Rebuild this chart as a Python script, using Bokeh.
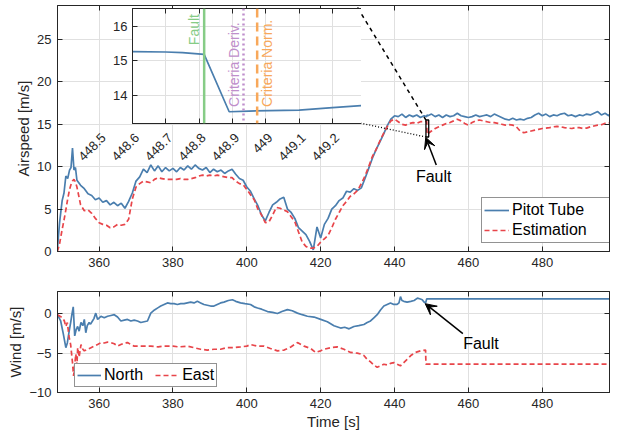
from math import pi
from bokeh.plotting import figure
from bokeh.models import (Range1d, LinearAxis, FixedTicker, Legend, LegendItem,
                          Arrow, VeeHead, Label, LabelSet, ColumnDataSource, GridBox, Span)
from bokeh.core.properties import value
from bokeh.embed import file_html
from bokeh.resources import INLINE

# ---------------- data ----------------
t_air = [348.7, 349.3, 350.0, 350.5, 351.0, 351.5, 352.0, 352.4, 352.8, 353.2, 353.6, 354,
         355, 356, 357, 358, 359, 360, 361, 362, 363, 364,
         365, 366, 367, 368, 369, 370, 371, 372, 373, 374,
         375, 376, 377, 378, 379, 380, 381, 382, 383, 384,
         385, 386, 387, 388, 389, 390, 391, 392, 393, 394,
         395, 396, 397, 398, 399, 400, 401, 402, 403, 404,
         405, 406, 407, 408, 409, 410, 411, 412, 413, 414,
         415, 416, 417, 418, 419, 420, 421, 422, 423, 424,
         425, 426, 427, 428, 429, 430, 431, 432, 433, 434,
         435, 436, 437, 438, 439, 440, 441, 442, 443, 444,
         445, 446, 447, 448, 448.7, 448.8,
         449, 450, 451, 452, 453, 454, 455, 456, 457, 458,
         459, 460, 461, 462, 463, 464, 465, 466, 467, 468,
         469, 470, 471, 472, 473, 474, 475, 476, 477, 478,
         479, 480, 481, 482, 483, 484, 485, 486, 487, 488,
         489, 490, 491, 492, 493, 494, 495, 496, 497, 498, 498.3]

pitot = [0.2, 3.4, 6.0, 6.9, 8.9, 8.6, 9.6, 9.9, 12.2, 9.6, 9.9, 8.4,
         7.8, 7.4, 6.8, 6.6, 6.1, 6.3, 5.8, 6.0, 5.5, 5.8,
         5.4, 5.7, 5.1, 5.9, 6.9, 8.3, 8.8, 9.7, 9.3, 10.2,
         9.5, 10.1, 9.4, 9.9, 9.5, 9.8, 9.4, 9.9, 9.6, 10.1,
         9.7, 10.2, 9.8, 9.6, 9.9, 9.3, 9.7, 9.4, 9.6, 9.2,
         9.5, 9.7, 9.1, 8.6, 8.4, 7.6, 7.1, 6.2, 5.4, 4.3,
         3.6, 4.6, 5.5, 5.8, 6.2, 6.4, 5.0, 4.6, 3.9, 2.8,
         2.4, 2.0, 1.2, 0.2, 2.9, 1.6, 3.2, 3.9, 5.0, 5.4,
         6.0, 6.3, 7.1, 7.0, 7.4, 7.2, 7.5, 8.6, 9.8, 11.0,
         12.0, 12.9, 13.8, 14.8, 15.6, 16.0, 15.9, 16.2, 15.8, 16.1,
         15.9, 16.1, 15.8, 16.0, 15.9, 16.1,
         16.0, 16.2, 15.9, 16.1, 15.8, 16.1, 15.9, 16.0, 16.3, 16.0,
         15.9, 15.8, 15.9, 16.1, 15.9, 16.0, 16.1, 15.9, 16.2, 16.0,
         15.8, 15.6, 15.5, 15.7, 15.5, 15.6, 15.5, 15.7, 15.8, 16.1,
         16.3, 16.0, 16.2, 15.9, 16.1, 16.0, 16.2, 16.3, 16.0, 16.1,
         15.9, 16.1, 16.0, 16.2, 16.1, 16.3, 16.5, 16.1, 16.3, 16.0, 16.2]

estimation = [0.0, 0.9, 2.6, 3.7, 4.9, 6.2, 7.3, 7.9, 8.3, 8.5, 8.2, 7.6,
              5.5, 4.8, 4.9, 4.5, 3.9, 3.4, 3.2, 3.1, 2.8, 2.9,
              3.2, 3.1, 3.2, 3.8, 6.2, 7.6, 8.0, 8.3, 8.2, 8.1,
              8.5, 8.7, 8.6, 8.5, 8.5, 8.5, 8.5, 8.6, 8.5, 8.5,
              8.6, 8.7, 8.9, 9.0, 8.9, 9.0, 8.9, 9.0, 8.9, 8.8,
              8.7, 8.7, 8.3, 8.0, 7.9, 7.3, 6.7, 6.1, 5.0, 4.3,
              3.4, 3.5, 4.3, 5.2, 5.1, 4.9, 4.7, 4.1, 3.5, 2.3,
              1.1, 0.6, 0.4, 0.4, 0.6, 1.1, 1.5, 1.9, 2.8, 3.8,
              4.6, 5.4, 5.9, 6.5, 6.8, 7.2, 8.0, 8.9, 10.0, 11.2,
              12.0, 13.0, 13.9, 14.7, 15.4, 15.6, 15.3, 15.0, 14.9, 15.1,
              15.2, 15.1, 15.3, 15.3, 15.35, 13.8,
              13.9, 14.2, 14.5, 14.7, 14.9, 15.1, 15.2, 15.4, 15.6, 15.4,
              15.1, 14.9, 15.2, 15.4, 15.5, 15.4, 15.3, 15.2, 15.2, 15.1,
              15.0, 14.9, 14.95, 14.9, 14.7, 14.2, 14.0, 14.1, 14.2, 14.3,
              14.4, 14.5, 14.55, 14.6, 14.7, 14.75, 14.7, 14.6, 14.55, 14.5,
              14.6, 14.6, 14.5, 14.55, 14.7, 14.8, 14.9, 14.95, 15.1, 15.15, 15.2]

t_north = [348.7, 349.6, 350.3, 351.0, 351.4, 351.9, 352.3, 352.6, 353.0, 353.4,
           353.8, 354.2, 354.6, 355.1, 355.6, 356.0, 356.4, 356.8, 357.3, 357.7,
           358.2, 358.6, 359.1, 359.6, 360.5, 361.4, 362.3, 363.2, 364.1, 365.0,
           365.9, 366.8, 367.7, 368.6, 369.5, 370.4, 371.3, 372.2, 373.1, 374.0,
           375.0, 376.0, 376.7, 377.6, 378.5, 379.4, 380.3, 381.2, 382.1, 383.0,
           383.9, 384.8, 385.7, 386.6, 387.5, 388.4, 389.3, 390.2, 391.1, 392.0,
           392.9, 393.8, 395.0, 396.1, 397.0, 398.3, 399.5, 401.0, 402.0, 402.9,
           404.0, 405.6, 407.0, 408.3, 409.5, 411.0, 412.3, 413.7, 415.0, 416.4,
           418.2, 420.0, 421.8, 423.6, 425.4, 426.5, 427.7, 429.0, 430.3, 431.7,
           432.6, 433.5, 434.4, 435.3, 436.2, 437.1, 438.0, 438.9, 439.8, 440.7,
           441.2, 441.6, 442.0, 442.5, 443.4, 444.4, 445.3, 446.2, 447.0, 447.5,
           448.0, 448.4, 448.7, 498.3]
north = [-0.1, -0.9, -2.5, -4.3, -3.7, -2.2, -1.1, -0.2, 0.9, -2.8,
         -2.0, -1.6, -2.2, -1.1, -1.5, -0.7, -2.4, -1.5, -1.1, -1.3,
         -0.9, -0.6, 0.1, -0.7, -0.3, -0.5, -0.3, -0.2, -0.1, -0.4,
         -0.9, -0.8, -0.7, -0.9, -0.8, -0.9, -1.1, -1.0, -0.9, 0.1,
         0.5, 0.8, 1.0, 1.2, 1.4, 1.3, 1.3, 1.2, 1.3, 1.3,
         1.4, 1.5, 1.4, 1.6, 1.4, 1.2, 1.1, 1.0, 1.0, 1.2,
         1.4, 1.5, 1.7, 1.8, 1.6, 1.4, 1.3, 1.2, 0.9, 0.75,
         0.6, 0.3, 0.2, 0.05, 0.3, 0.55, 0.4, 0.1, -0.1, -0.3,
         -0.4, -0.7, -1.0, -1.5, -1.8, -1.7, -1.9, -1.6, -1.5, -1.35,
         -1.1, -0.9, -0.5, -0.1, 0.5, 1.0, 1.2, 1.4, 1.2, 1.2,
         1.4, 2.2, 1.7, 1.6, 1.5, 1.6, 1.7, 2.0, 1.9, 1.8,
         1.5, 1.4, 1.9, 1.9]

t_east = [348.7, 349.4, 350.1, 350.6, 351.0, 351.4, 351.9, 352.3, 352.8, 353.1,
          353.4, 353.7, 354.0, 354.2, 354.6, 355.1, 355.6, 356.0, 356.9, 357.8,
          358.7, 359.6, 360.5, 361.4, 362.3, 363.2, 364.1, 365.0, 365.9, 366.8,
          367.7, 368.6, 369.5, 370.4, 372.2, 374.0, 376.0, 377.6, 380.0, 381.5,
          383.9, 385.7, 387.5, 389.3, 391.1, 392.9, 394.6, 396.4, 398.3, 400.0,
          401.0, 402.8, 404.6, 406.4, 408.3, 410.1, 411.9, 413.7, 415.5, 417.3,
          418.6, 420.0, 420.9, 422.7, 424.5, 426.3, 428.1, 429.9, 430.8, 431.7,
          432.6, 433.5, 434.4, 435.3, 436.2, 437.1, 438.0, 438.9, 439.8, 440.7,
          441.6, 442.5, 443.4, 444.4, 445.7, 447.0, 448.4, 448.5, 498.3]
east = [-0.1, -0.3, -0.5, -0.9, -1.6, -1.1, -3.0, -3.9, -6.2, -7.9,
        -6.5, -5.1, -6.6, -4.3, -5.5, -3.9, -4.5, -4.7, -4.5, -4.3,
        -4.1, -3.9, -3.65, -3.7, -3.6, -3.65, -3.8, -4.1, -3.9, -3.7,
        -3.65, -3.9, -4.1, -4.1, -4.1, -4.1, -4.2, -4.1, -4.1, -4.2,
        -4.1, -4.3, -4.5, -4.6, -4.5, -4.5, -4.3, -4.3, -4.2, -4.1,
        -3.9, -4.1, -4.1, -4.4, -4.7, -4.6, -4.2, -3.65, -4.1, -4.4,
        -4.9, -4.7, -4.5, -4.3, -4.2, -4.5, -4.9, -5.0, -5.1, -5.3,
        -5.8, -6.1, -6.5, -6.8, -6.6, -6.4, -6.5, -6.3, -6.2, -6.4,
        -6.6, -6.2, -5.8, -5.3, -4.9, -4.7, -4.6, -6.4, -6.4]

# zoomed (inset) airspeed
t_zoom = [448.5, 448.6, 448.65, 448.715, 448.79, 448.85, 449.0, 449.1, 449.2, 449.25]
pitot_zoom = [15.27, 15.26, 15.24, 15.19, 13.53, 13.55, 13.58, 13.65, 13.72, 13.76]
event_t = [448.715, 448.833, 448.874]
event_names = ["Fault", "Criteria Deriv.", "Criteria Norm."]

time_ticks = [360, 380, 400, 420, 440, 460, 480]
air_ticks = [0, 5, 10, 15, 20, 25]
wind_ticks = [-10, -5, 0]
zoom_x_ticks = [448.5, 448.6, 448.7, 448.8, 448.9, 449.0, 449.1, 449.2]
zoom_x_labels = ["448.5", "448.6", "448.7", "448.8", "448.9", "449", "449.1", "449.2"]
zoom_y_ticks = [14, 15, 16]
zoom_y_lim = [13.19, 16.52]

zoom_box_y = [13.5, 15.5]
air_fault_arrow = [451.3, 10.2, 448.45, 13.45]
air_fault_text = [450.6, 8.9]
wind_fault_arrow = [458.5, -2.5, 448.3, 1.3]
wind_fault_text = [463.4, -3.75]

# ---------------- style ----------------
FONT = "Liberation Sans"
AX = "#262626"
GRID = "#e0e0e0"
BLUE = "#4a7eae"
RED = "#e8454a"
GREEN = "#86cc86"
PURPLE = "#bf8fcc"
ORANGE = "#f8a85a"

X0, X1 = 348.74, 498.2
Y1 = 29
MAIN_L, MAIN_T, MAIN_W, MAIN_H = 57, 5, 552, 246
IN_BL, IN_BT = 32, 4
IN_ML, IN_MT = 75, 3
IN_W, IN_H = 250, 115


def style(p, xticks, yticks, tick_size="13px"):
    xa = p.below[0]
    ya = p.left[0]
    xa.ticker = FixedTicker(ticks=xticks)
    ya.ticker = FixedTicker(ticks=yticks)
    p.xgrid.ticker = FixedTicker(ticks=xticks)
    p.ygrid.ticker = FixedTicker(ticks=yticks)
    for ax in (xa, ya):
        ax.axis_line_color = AX
        ax.major_tick_line_color = AX
        ax.major_tick_in = 5
        ax.major_tick_out = 0
        ax.minor_tick_line_color = None
        ax.major_label_text_font = FONT
        ax.major_label_text_font_size = tick_size
        ax.major_label_text_color = AX
        ax.axis_label_text_font = FONT
        ax.axis_label_text_font_size = "15px"
        ax.axis_label_text_font_style = "normal"
        ax.axis_label_text_color = AX
        ax.major_label_standoff = 6
        ax.axis_label_standoff = 2
    p.grid.grid_line_color = GRID
    p.outline_line_color = AX
    p.outline_line_alpha = 1
    for side, ticks in (("above", xticks), ("right", yticks)):
        a = LinearAxis(ticker=FixedTicker(ticks=ticks), major_label_text_font_size="0px",
                       major_label_text_color=None, major_label_standoff=0,
                       major_tick_in=5, major_tick_out=0,
                       minor_tick_line_color=None, axis_line_color=AX,
                       major_tick_line_color=AX)
        p.add_layout(a, side)
    return xa, ya


def page_to_main(sx, sy):
    """page pixel -> data coordinates of the top (airspeed) plot"""
    return (X0 + (sx - MAIN_L) / MAIN_W * (X1 - X0),
            Y1 - (sy - MAIN_T) / MAIN_H * Y1)


# ---------------- top: airspeed ----------------
p1 = figure(frame_width=MAIN_W, frame_height=MAIN_H, x_range=Range1d(X0, X1),
            y_range=Range1d(0, Y1), min_border_left=MAIN_L, min_border_top=MAIN_T,
            min_border_right=8, min_border_bottom=30, output_backend="svg",
            toolbar_location=None, background_fill_color="white")
x1a, y1a = style(p1, time_ticks, air_ticks)
y1a.axis_label = "Airspeed [m/s]"

r_pitot = p1.line(t_air, pitot, line_color=BLUE, line_width=1.7)
r_est = p1.line(t_air, estimation, line_color=RED, line_width=1.7, line_dash="5 3")

# zoom box + connectors to the inset corners
p1.quad(left=[t_zoom[0]], right=[t_zoom[-1]], bottom=[zoom_box_y[0]], top=[zoom_box_y[1]],
        fill_color=None, line_color="black", line_width=1.3)
in_left = IN_ML + IN_BL
in_top = IN_MT + IN_BT
cx, cy_top = page_to_main(in_left + IN_W, in_top)
_, cy_bot = page_to_main(in_left + IN_W, in_top + IN_H)
p1.line([cx, t_zoom[0]], [cy_top, zoom_box_y[1]], line_color="black", line_width=1.5,
        line_dash="4 4")
p1.line([cx, t_zoom[0]], [cy_bot, zoom_box_y[0]], line_color="black", line_width=1.3,
        line_dash="1 2")

# rotated tick labels of the inset's x axis (drawn where the inset's axis sits)
zx0, zx1 = t_zoom[0], t_zoom[-1]
lab_x = [page_to_main(in_left + (t - zx0) / (zx1 - zx0) * IN_W, 0)[0] for t in zoom_x_ticks]
zsrc = ColumnDataSource(dict(x=lab_x, y=[cy_bot] * len(lab_x), text=zoom_x_labels))
p1.add_layout(LabelSet(x="x", y="y", text="text", source=zsrc, angle=pi / 4,
                       text_align="right", text_baseline="middle", x_offset=-4,
                       y_offset=-13, text_font=value(FONT),
                       text_font_size=value("13px"), text_color=value(AX)))

p1.add_layout(Arrow(end=VeeHead(size=11, fill_color="black", line_color="black", line_width=1),
                    x_start=air_fault_arrow[0], y_start=air_fault_arrow[1],
                    x_end=air_fault_arrow[2], y_end=air_fault_arrow[3],
                    line_color="black", line_width=1.5))
p1.add_layout(Label(x=air_fault_text[0], y=air_fault_text[1], text="Fault",
                    text_align="center", text_baseline="middle", text_font=FONT,
                    text_font_size="16px", text_color="black"))

leg1 = Legend(items=[LegendItem(label="Pitot Tube", renderers=[r_pitot]),
                     LegendItem(label="Estimation", renderers=[r_est])],
              location=(424, 8), label_text_font=FONT, label_text_font_size="16px",
              label_text_color="black", glyph_width=25, label_standoff=3, label_width=98,
              label_height=20, glyph_height=20, spacing=0, padding=2,
              border_line_color=AX, border_line_width=1, background_fill_color="white",
              background_fill_alpha=1, margin=0)
p1.add_layout(leg1, "center")

# ---------------- inset ----------------
pz = figure(frame_width=IN_W, frame_height=IN_H, x_range=Range1d(zx0, zx1),
            y_range=Range1d(*zoom_y_lim), min_border_left=IN_BL, min_border_top=IN_BT,
            min_border_right=4, min_border_bottom=50, output_backend="svg",
            toolbar_location=None, border_fill_color=None, background_fill_color="white",
            margin=(IN_MT, 0, 0, IN_ML))
xza, yza = style(pz, zoom_x_ticks, zoom_y_ticks)
xza.major_label_text_color = None
xza.major_label_text_font_size = "0px"
xza.major_label_standoff = 0
yza.major_label_standoff = 5

ev_colors = [GREEN, PURPLE, ORANGE]
ev_dash = ["solid", "2 3", "9 5"]
for t, c, d in zip(event_t, ev_colors, ev_dash):
    pz.add_layout(Span(location=t, dimension="height", line_color=c, line_width=2.5,
                       line_dash=d))
pz.line(t_zoom, pitot_zoom, line_color=BLUE, line_width=1.7)

pz.add_layout(Label(x=event_t[0], y=16.36, text=event_names[0], angle=pi / 2,
                    text_align="right", text_baseline="bottom", x_offset=-2,
                    text_font=FONT, text_font_size="14px", text_color=GREEN))
pz.add_layout(Label(x=event_t[1], y=13.67, text=event_names[1], angle=pi / 2,
                    text_align="left", text_baseline="bottom", x_offset=-2,
                    text_font=FONT, text_font_size="14px", text_color=PURPLE))
pz.add_layout(Label(x=event_t[2], y=13.67, text=event_names[2], angle=pi / 2,
                    text_align="left", text_baseline="top", x_offset=2,
                    text_font=FONT, text_font_size="14px", text_color=ORANGE))

# ---------------- bottom: wind ----------------
p2 = figure(frame_width=MAIN_W, frame_height=101, x_range=p1.x_range,
            y_range=Range1d(-10, 2.85), min_border_left=MAIN_L, min_border_top=10,
            min_border_right=8, min_border_bottom=46, output_backend="svg",
            toolbar_location=None, background_fill_color="white")
x2a, y2a = style(p2, time_ticks, wind_ticks)
y2a.axis_label = "Wind [m/s]"
x2a.axis_label = "Time [s]"

r_n = p2.line(t_north, north, line_color=BLUE, line_width=1.7)
r_e = p2.line(t_east, east, line_color=RED, line_width=1.7, line_dash="5 3")

p2.add_layout(Arrow(end=VeeHead(size=11, fill_color="black", line_color="black", line_width=1),
                    x_start=wind_fault_arrow[0], y_start=wind_fault_arrow[1],
                    x_end=wind_fault_arrow[2], y_end=wind_fault_arrow[3],
                    line_color="black", line_width=1.5))
p2.add_layout(Label(x=wind_fault_text[0], y=wind_fault_text[1], text="Fault",
                    text_align="center", text_baseline="middle", text_font=FONT,
                    text_font_size="16px", text_color="black"))

leg2 = Legend(items=[LegendItem(label="North", renderers=[r_n]),
                     LegendItem(label="East", renderers=[r_e])],
              location=(17, 5), orientation="horizontal", label_text_font=FONT,
              label_text_font_size="16px", label_text_color="black", glyph_width=24,
              label_standoff=3, label_height=18, glyph_height=18, spacing=12, padding=2,
              border_line_color=AX, border_line_width=1, background_fill_color="white",
              background_fill_alpha=1, margin=0)
p2.add_layout(leg2, "center")

layout = GridBox(children=[(p1, 0, 0), (pz, 0, 0), (p2, 1, 0)], spacing=0)

open("out.html", "w").write(file_html(layout, INLINE))
